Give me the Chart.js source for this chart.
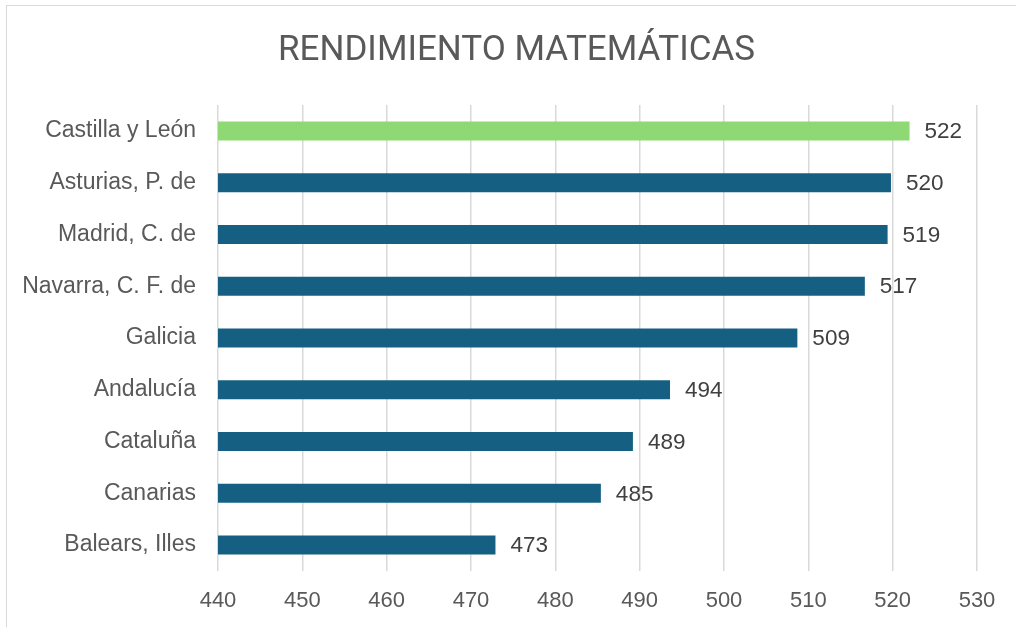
<!DOCTYPE html>
<html>
<head>
<meta charset="utf-8">
<script src="https://cdn.jsdelivr.net/npm/chart.js@4/dist/chart.umd.min.js"></script>
<style>
  html, body { margin: 0; padding: 0; background: #fff; }
  #wrap { position: relative; width: 1016px; height: 627px; overflow: hidden; }
  #frame { position: absolute; left: 6px; top: 5px; width: 1100px; height: 700px;
           border-left: 1px solid #d9d9d9; border-top: 1px solid #d9d9d9; }
</style>
</head>
<body>
<div id="wrap">
  <div id="frame"></div>
  <canvas id="myChart"></canvas>
</div>
<script>
const regions = ['Castilla y León', 'Asturias, P. de', 'Madrid, C. de', 'Navarra, C. F. de',
  'Galicia', 'Andalucía', 'Cataluña', 'Canarias', 'Balears, Illes']
const scores = [522.0, 519.8, 519.4, 516.7, 508.7, 493.6, 489.2, 485.4, 472.9]
const xTicks = [440, 450, 460, 470, 480, 490, 500, 510, 520, 530]

const blue = '#156082'
const green = '#8ED973'
const tickColor = '#595959'
const fontFamily = "'Liberation Sans', Arial, sans-serif"

// etiquetas de valor al final de cada barra
const valueLabels = {
  id: 'valueLabels',
  afterDatasetsDraw(chart) {
    const ctx = chart.ctx
    const meta = chart.getDatasetMeta(0)
    ctx.save()
    ctx.font = '22.5px ' + fontFamily
    ctx.fillStyle = '#404040'
    ctx.textAlign = 'left'
    ctx.textBaseline = 'middle'
    meta.data.forEach((bar, i) => {
      ctx.fillText(Math.round(scores[i]), bar.x + 15, bar.y + 1)
    })
    ctx.restore()
  }
}

const ctx = document.getElementById('myChart').getContext('2d')

const chart = new Chart(ctx, {
  type: 'bar',
  data: {
    labels: regions,
    datasets: [{
      data: scores,
      backgroundColor: scores.map((v, i) => i === 0 ? green : blue),
      borderWidth: 0,
      barPercentage: 0.367,
      categoryPercentage: 1
    }]
  },
  options: {
    indexAxis: 'y',
    responsive: true,
    maintainAspectRatio: false,
    animation: false,
    layout: { padding: { left: 17, right: 0, top: 0, bottom: 0 } },
    scales: {
      x: {
        min: xTicks[0],
        max: xTicks[xTicks.length - 1],
        afterBuildTicks: (s) => { s.ticks = xTicks.map(v => ({ value: v })) },
        afterFit: (s) => { s.height = 56; s.paddingRight = 39 },
        grid: { color: '#d9d9d9', lineWidth: 1.5, drawTicks: false },
        border: { display: false },
        ticks: { color: tickColor, font: { family: fontFamily, size: 22 }, padding: 17 }
      },
      y: {
        afterFit: (s) => { s.width = 201 },
        grid: { display: false, drawTicks: false },
        border: { display: false },
        ticks: { color: tickColor, font: { family: fontFamily, size: 23 }, padding: 22 }
      }
    },
    plugins: {
      legend: { display: false },
      tooltip: { enabled: false },
      title: {
        display: true,
        text: 'RENDIMIENTO MATEMÁTICAS',
        color: tickColor,
        font: { family: "Roboto, 'Liberation Sans', sans-serif", size: 35, weight: 'normal' },
        padding: { top: 30, bottom: 33 }
      }
    }
  },
  plugins: [valueLabels]
})
</script>
</body>
</html>
